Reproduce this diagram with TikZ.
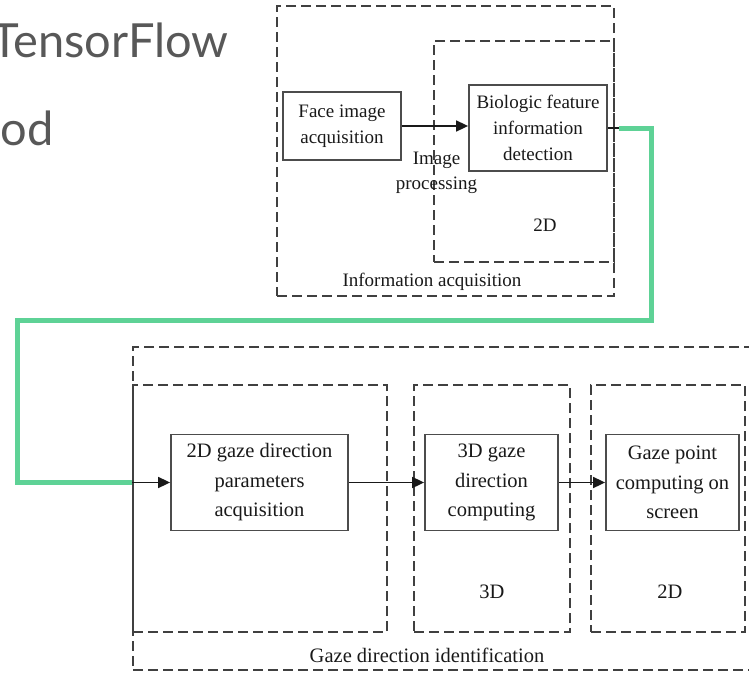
\documentclass[tikz,border=0pt]{standalone}
\usepackage{fontspec}
\setmainfont{Liberation Serif}
\newfontfamily\slidefont{Lato}
\usetikzlibrary{arrows.meta}

\definecolor{mint}{RGB}{94,210,150}
\definecolor{slidegray}{RGB}{88,88,88}

\begin{document}
\begin{tikzpicture}[
    x=1pt, y=-1pt,
    block/.style={rectangle, draw=black!70, line width=1.8pt, inner sep=0pt,
                  align=center, text=black!90, font=\fontsize{19}{26}\selectfont},
    bigblock/.style={block, font=\fontsize{20.5}{29.5}\selectfont},
    group/.style={rectangle, draw=black!75, line width=1.8pt,
                  dash pattern=on 10pt off 5pt, inner sep=0pt},
    arrow/.style={-{Triangle[length=12pt, width=11pt]}, line width=1.7pt, black!90},
    link/.style={line width=1.7pt, black!90},
    greenline/.style={line width=5pt, draw=mint},
    label/.style={text=black!90, align=center, font=\fontsize{19}{25}\selectfont},
    biglabel/.style={label, font=\fontsize{20.5}{29.5}\selectfont},
    slide/.style={text=slidegray, anchor=base west, inner sep=0pt,
                  font=\slidefont\fontsize{47}{56}\selectfont}
  ]
    \useasboundingbox (0,0) rectangle (749,672);
    \clip (0,0) rectangle (749,672);

    % Slide text behind the figure
    \node[slide] (slidetitle) at (-9,57) {TensorFlow};
    \node[slide] (slidesub) at (0.5,145) {od};

    % Information acquisition (top)
    \node[group, minimum width=337pt, minimum height=290pt] (infoacq) at (445.5,151) {};
    \node[group, minimum width=180pt, minimum height=221pt] (top2d) at (524,151.5) {};
    \node[block, minimum width=118pt, minimum height=68pt] (face) at (342,126) {Face image\\acquisition};
    \node[block, minimum width=138pt, minimum height=86pt] (bio) at (538,128) {Biologic feature\\information\\detection};
    \node[label] (imgproc) at (436.5,172.5) {Image\\processing};
    \node[label] (top2dlbl) at (545,225) {2D};
    \node[label] (infolbl) at (432,282) {Information acquisition};

    % Gaze direction identification (bottom)
    \node[group, minimum width=629pt, minimum height=323pt] (gazeid) at (447.5,508.5) {};
    \node[group, minimum width=254pt, minimum height=247pt] (gaze2d) at (260,508.5) {};
    \node[group, minimum width=156pt, minimum height=247pt] (gaze3d) at (492,508.5) {};
    \node[group, minimum width=154pt, minimum height=247pt] (screen2d) at (668,508.5) {};
    \node[bigblock, minimum width=177pt, minimum height=96pt] (params) at (259.5,482.5) {2D gaze direction\\parameters\\acquisition};
    \node[bigblock, minimum width=133pt, minimum height=96pt] (comp3d) at (491.5,482.5) {3D gaze\\direction\\computing};
    \node[bigblock, minimum width=133pt, minimum height=96pt] (gazept) at (672.5,482.5) {Gaze point\\computing on\\screen};
    \node[biglabel] (lbl3d) at (492,592) {3D};
    \node[biglabel] (lbl2d) at (670,592) {2D};
    \node[biglabel] (gazelbl) at (427,655) {Gaze direction identification};

    % Green link between the two parts
    \coordinate (c1) at (651,320);
    \coordinate (c2) at (17,482.5);

    % Arrows
    \draw[arrow] (face.east) -- (face.east -| bio.west);
    \draw[link] (bio.east) -- ++(11,0) coordinate (gs);
    \draw[greenline] (gs) -| (c1) -| (c2) -- (c2 -| gaze2d.west) coordinate (ge);
    \draw[arrow] (ge) -- (params.west);
    \draw[arrow] (params) -- (comp3d);
    \draw[arrow] (comp3d) -- (gazept);

  \end{tikzpicture}
\end{document}
